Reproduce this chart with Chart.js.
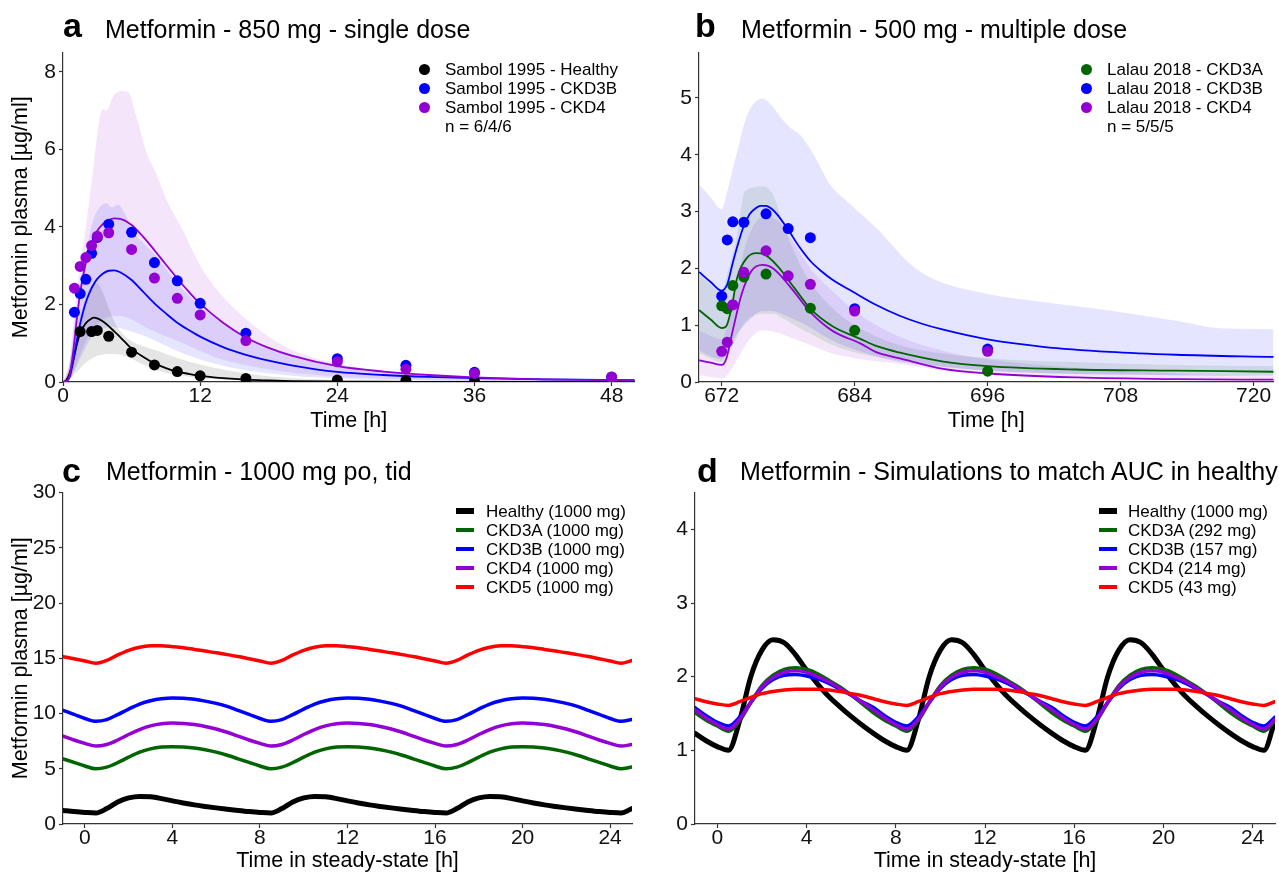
<!DOCTYPE html>
<html><head><meta charset="utf-8">
<script src="https://cdn.jsdelivr.net/npm/chart.js@4.4.1/dist/chart.umd.min.js"></script>
<style>
html,body{margin:0;padding:0;background:#fff;}
body{width:1279px;height:872px;position:relative;overflow:hidden;font-family:"Liberation Sans",Arial,Helvetica,sans-serif;color:#000;}
canvas{position:absolute;}
.t{position:absolute;white-space:nowrap;line-height:1;}
.ttl{font-size:25px;}
.let{font-size:34px;font-weight:bold;}
.lg{font-size:17px;}
.dot{position:absolute;width:11px;height:11px;border-radius:50%;}
.mk{position:absolute;width:18px;}
</style></head><body>
<canvas id="ca" width="640" height="401" style="left:0;top:39px"></canvas>
<canvas id="cb" width="639" height="401" style="left:640px;top:39px"></canvas>
<canvas id="cc" width="640" height="393" style="left:0;top:479px"></canvas>
<canvas id="cd" width="639" height="393" style="left:640px;top:479px"></canvas>

<div class="t let" style="left:63px;top:8px">a</div>
<div class="t ttl" style="left:105px;top:17px">Metformin - 850 mg - single dose</div>
<div class="t let" style="left:695px;top:8px">b</div>
<div class="t ttl" style="left:741px;top:17px">Metformin - 500 mg - multiple dose</div>
<div class="t let" style="left:62px;top:453px">c</div>
<div class="t ttl" style="left:106px;top:459px">Metformin - 1000 mg po, tid</div>
<div class="t let" style="left:697px;top:453px">d</div>
<div class="t ttl" style="left:740px;top:459px">Metformin - Simulations to match AUC in healthy</div>

<!-- legend a -->
<span class="dot" style="left:418.5px;top:63.5px;background:#000"></span>
<span class="dot" style="left:418.5px;top:82.7px;background:#0000ff"></span>
<span class="dot" style="left:418.5px;top:101.9px;background:#9400d3"></span>
<div class="t lg" style="left:445px;top:60.6px">Sambol 1995 - Healthy</div>
<div class="t lg" style="left:445px;top:79.8px">Sambol 1995 - CKD3B</div>
<div class="t lg" style="left:445px;top:99px">Sambol 1995 - CKD4</div>
<div class="t lg" style="left:445px;top:118.2px">n = 6/4/6</div>
<!-- legend b -->
<span class="dot" style="left:1080.5px;top:63.5px;background:#006400"></span>
<span class="dot" style="left:1080.5px;top:82.7px;background:#0000ff"></span>
<span class="dot" style="left:1080.5px;top:101.9px;background:#9400d3"></span>
<div class="t lg" style="left:1107px;top:60.6px">Lalau 2018 - CKD3A</div>
<div class="t lg" style="left:1107px;top:79.8px">Lalau 2018 - CKD3B</div>
<div class="t lg" style="left:1107px;top:99px">Lalau 2018 - CKD4</div>
<div class="t lg" style="left:1107px;top:118.2px">n = 5/5/5</div>
<!-- legend c -->
<span class="mk" style="left:456px;top:508px;height:6px;background:#000"></span>
<span class="mk" style="left:456px;top:528px;height:4px;background:#006400"></span>
<span class="mk" style="left:456px;top:547px;height:4px;background:#0000ff"></span>
<span class="mk" style="left:456px;top:566px;height:4px;background:#9400d3"></span>
<span class="mk" style="left:456px;top:585px;height:4px;background:#ff0000"></span>
<div class="t lg" style="left:486px;top:502.6px">Healthy (1000 mg)</div>
<div class="t lg" style="left:486px;top:521.6px">CKD3A (1000 mg)</div>
<div class="t lg" style="left:486px;top:540.6px">CKD3B (1000 mg)</div>
<div class="t lg" style="left:486px;top:559.6px">CKD4 (1000 mg)</div>
<div class="t lg" style="left:486px;top:578.6px">CKD5 (1000 mg)</div>
<!-- legend d -->
<span class="mk" style="left:1099px;top:508px;height:6px;background:#000"></span>
<span class="mk" style="left:1099px;top:528px;height:4px;background:#006400"></span>
<span class="mk" style="left:1099px;top:547px;height:4px;background:#0000ff"></span>
<span class="mk" style="left:1099px;top:566px;height:4px;background:#9400d3"></span>
<span class="mk" style="left:1099px;top:585px;height:4px;background:#ff0000"></span>
<div class="t lg" style="left:1128px;top:502.6px">Healthy (1000 mg)</div>
<div class="t lg" style="left:1128px;top:521.6px">CKD3A (292 mg)</div>
<div class="t lg" style="left:1128px;top:540.6px">CKD3B (157 mg)</div>
<div class="t lg" style="left:1128px;top:559.6px">CKD4 (214 mg)</div>
<div class="t lg" style="left:1128px;top:578.6px">CKD5 (43 mg)</div>

<script>
// ---------- Panel a : 850 mg single dose ----------
const aTicksX = [0, 12, 24, 36, 48];
const aTicksY = [0, 2, 4, 6, 8];
const aObsHealthyT = [1.5, 2.5, 3, 4, 6, 8, 10, 12, 16, 24, 30, 36];
const aObsHealthy  = [1.30, 1.30, 1.33, 1.18, 0.77, 0.44, 0.27, 0.16, 0.09, 0.05, 0.04, 0.02];
const aObsT = [1, 1.5, 2, 2.5, 3, 4, 6, 8, 10, 12, 16, 24, 30, 36, 48];
const aObsCKD3B = [1.80, 2.28, 2.65, 3.32, 3.73, 4.07, 3.86, 3.08, 2.61, 2.03, 1.26, 0.60, 0.43, 0.25, 0.13];
const aObsCKD4  = [2.42, 2.98, 3.21, 3.52, 3.76, 3.85, 3.42, 2.68, 2.16, 1.73, 1.07, 0.52, 0.33, 0.22, 0.12];
const aLineT = [0,0.3,0.6,0.9,1.2,1.5,1.8,2.1,2.4,2.7,3.0,3.5,4.0,4.5,5.0,6,7,8,9,10,11,12,14,16,18,20,24,28,32,36,42,50];
const aSimHealthy = [0,0.05,0.25,0.56,0.95,1.25,1.43,1.55,1.62,1.66,1.64,1.56,1.44,1.3,1.16,0.86,0.65,0.48,0.36,0.27,0.21,0.16,0.1,0.06,0.04,0.025,0.012,0.006,0.003,0.002,0.001,0];
const aSimCKD3B = [0,0.02,0.14,0.55,1.07,1.5,1.86,2.14,2.36,2.53,2.66,2.8,2.87,2.88,2.83,2.63,2.33,2.03,1.77,1.53,1.34,1.17,0.9,0.7,0.55,0.43,0.26,0.18,0.13,0.1,0.07,0.05];
const aSimCKD4  = [0,0.02,0.2,0.8,1.6,2.3,2.8,3.2,3.5,3.72,3.9,4.08,4.18,4.22,4.21,4.05,3.75,3.4,3.03,2.67,2.33,2.02,1.53,1.15,0.88,0.68,0.41,0.27,0.18,0.12,0.07,0.04];
const aBandHealthyT = [0,0.5,1,1.5,2,2.5,3,3.5,4,4.5,5,6,7,8.5,10,12,14,16,20,24,30,50];
const aBandHealthyHi = [0,0.4,1.1,1.7,2.2,2.5,2.55,2.3,1.9,1.55,1.32,1.05,0.93,0.78,0.62,0.45,0.32,0.22,0.1,0.05,0.02,0];
const aBandHealthyLo = [0,0.05,0.2,0.35,0.5,0.6,0.68,0.71,0.72,0.72,0.7,0.6,0.45,0.28,0.18,0.1,0.06,0.04,0.02,0.01,0,0];
const aBandCKD3BT  = [0,0.5,1,1.5,2,2.6,3.2,3.8,4.3,4.8,5.5,6,7,8,10,12,14,16,20,24,30,36,50];
const aBandCKD3BHi = [0,0.3,1.5,2.5,3.3,4.14,4.5,4.61,4.5,4.57,4.3,3.95,3.6,3.3,2.55,1.95,1.5,1.15,0.72,0.45,0.24,0.13,0.05];
const aBandCKD3BLo = [0,0.05,0.3,0.6,0.9,1.2,1.35,1.4,1.42,1.4,1.35,1.3,1.2,1.08,0.8,0.58,0.42,0.3,0.16,0.09,0.04,0.02,0.01];
const aBandCKD4T  = [0,0.5,1,1.5,2,2.6,3.2,3.5,3.8,4.4,5.1,5.7,6.4,7.3,8.2,9,10.5,12,13.7,15.7,19.2,23.6,29.4,34.6,42,50];
const aBandCKD4Hi = [0,0.4,1.8,3.0,4.0,5.4,6.8,7.04,7.0,7.38,7.51,7.48,6.87,5.93,5.34,4.74,3.9,3.0,2.3,1.7,0.95,0.5,0.22,0.1,0.05,0.02];
const aBandCKD4Lo = [0,0.03,0.3,0.7,1.05,1.35,1.55,1.62,1.66,1.7,1.7,1.65,1.55,1.4,1.28,1.18,1.0,0.8,0.6,0.45,0.27,0.15,0.07,0.04,0.02,0.01];

// ---------- Panel b : 500 mg multiple dose ----------
const bTicksX = [672, 684, 696, 708, 720];
const bTicksY = [0, 1, 2, 3, 4, 5];
const bObsT = [672, 672.5, 673, 674, 676, 678, 680, 684, 696];
const bObsCKD3B = [1.51, 2.50, 2.82, 2.81, 2.96, 2.70, 2.54, 1.29, 0.58];
const bObsCKD4  = [0.54, 0.70, 1.36, 1.93, 2.31, 1.87, 1.72, 1.25, 0.54];
const bObsCKD3AT = [672, 672.5, 673, 674, 676, 680, 684, 696];
const bObsCKD3A  = [1.34, 1.29, 1.70, 1.85, 1.90, 1.30, 0.91, 0.19];
const bSimCKD3BT = [670,671,672,672.5,673,673.5,674,674.5,675,675.5,676,676.5,677,678,679,680,681,682,684,686,688,690,692,696,701,707,713,722];
const bSimCKD3B  = [1.93,1.76,1.61,1.72,2.1,2.45,2.75,2.95,3.05,3.1,3.1,3.05,2.95,2.68,2.38,2.13,1.95,1.8,1.57,1.35,1.17,1.03,0.92,0.75,0.62,0.53,0.48,0.44];
const bSimCKD3AT = [670,671,672,672.4,672.9,673.4,674.3,675.1,675.8,677,678.5,680,682,684.5,686,688,692,696,704,713,722];
const bSimCKD3A  = [1.26,1.1,0.95,0.98,1.32,1.84,2.19,2.27,2.25,2.05,1.67,1.29,0.98,0.76,0.63,0.52,0.36,0.28,0.22,0.2,0.18];
const bSimCKD4T  = [670,671,672,672.4,673,673.8,674.7,675.7,676.7,678.2,680,682,684.5,686,688,692,696,704,713,722];
const bSimCKD4   = [0.38,0.34,0.3,0.4,0.91,1.55,1.96,2.06,1.99,1.67,1.23,0.9,0.68,0.52,0.42,0.23,0.15,0.08,0.05,0.04];
const bBandCKD3BT  = [670,671,672,672.5,673.4,674.3,675.7,676.5,677.4,678.3,679.1,680.3,681.8,683.3,686,689,691,696,701,707,713,717.4,722];
const bBandCKD3BHi = [3.47,3.25,3.04,3.36,4.06,4.7,4.99,4.87,4.64,4.46,4.35,4.0,3.47,3.18,2.7,2.08,1.82,1.55,1.41,1.26,1.08,0.94,0.93];
const bBandCKD3BLo = [0.55,0.45,0.4,0.55,0.85,1.05,1.25,1.25,1.2,1.12,1.05,0.92,0.75,0.62,0.45,0.32,0.28,0.2,0.16,0.13,0.12,0.11,0.11];
const bBandCKD3AT  = [670,672,672.5,673.4,674.1,675.8,676.7,677.5,679,680,682,684,688,692,696,704,713,722];
const bBandCKD3AHi = [1.9,1.6,1.9,2.6,3.36,3.44,3.27,2.8,2.1,1.75,1.3,1.0,0.65,0.5,0.42,0.35,0.3,0.28];
const bBandCKD3ALo = [0.5,0.35,0.45,0.8,1.05,1.2,1.2,1.12,0.95,0.85,0.65,0.52,0.38,0.27,0.2,0.14,0.12,0.11];
const bBandCKD4T  = [670,672,672.5,673.4,674.3,675.7,677,678,680,682,684,688,692,696,704,713,722];
const bBandCKD4Hi = [0.9,0.75,1.0,1.8,2.5,2.9,2.85,2.6,2.0,1.6,1.25,0.8,0.55,0.4,0.25,0.15,0.1];
const bBandCKD4Lo = [0.12,0.07,0.12,0.4,0.7,0.91,0.87,0.8,0.65,0.5,0.42,0.32,0.2,0.13,0.07,0.04,0.03];

// ---------- Panels c & d : steady state tid ----------
const ssTicksX = [0, 4, 8, 12, 16, 20, 24];
const cTicksY = [0, 5, 10, 15, 20, 25, 30];
const dTicksY = [0, 1, 2, 3, 4];
const ssT = [-1,-0.5,0,0.5,1,1.5,2,2.5,3,3.5,4,4.5,5,5.5,6,6.5,7,7.5,8,8.5,9,9.5,10,10.5,11,11.5,12,12.5,13,13.5,14,14.5,15,15.5,16,16.5,17,17.5,18,18.5,19,19.5,20,20.5,21,21.5,22,22.5,23,23.5,24,24.5,25];
const cHealthy = [1.23,1.13,
 1.05,1.0,1.4,2.0,2.36,2.5,2.46,2.3,2.09,1.9,1.73,1.59,1.46,1.34,1.23,1.13,
 1.05,1.0,1.4,2.0,2.36,2.5,2.46,2.3,2.09,1.9,1.73,1.59,1.46,1.34,1.23,1.13,
 1.05,1.0,1.4,2.0,2.36,2.5,2.46,2.3,2.09,1.9,1.73,1.59,1.46,1.34,1.23,1.13,
 1.05,1.0,1.4];
const cCKD3A = [5.9,5.57,
 5.25,5.0,5.15,5.55,6.05,6.5,6.8,6.96,7.0,6.97,6.88,6.72,6.5,6.22,5.9,5.57,
 5.25,5.0,5.15,5.55,6.05,6.5,6.8,6.96,7.0,6.97,6.88,6.72,6.5,6.22,5.9,5.57,
 5.25,5.0,5.15,5.55,6.05,6.5,6.8,6.96,7.0,6.97,6.88,6.72,6.5,6.22,5.9,5.57,
 5.25,5.0,5.15];
const cCKD3B = [10.28,9.92,
 9.55,9.3,9.45,9.9,10.4,10.85,11.15,11.33,11.4,11.37,11.28,11.12,10.92,10.65,10.28,9.92,
 9.55,9.3,9.45,9.9,10.4,10.85,11.15,11.33,11.4,11.37,11.28,11.12,10.92,10.65,10.28,9.92,
 9.55,9.3,9.45,9.9,10.4,10.85,11.15,11.33,11.4,11.37,11.28,11.12,10.92,10.65,10.28,9.92,
 9.55,9.3,9.45];
const cCKD4 = [7.95,7.6,
 7.3,7.05,7.2,7.6,8.1,8.55,8.88,9.07,9.13,9.1,9.0,8.83,8.6,8.3,7.95,7.6,
 7.3,7.05,7.2,7.6,8.1,8.55,8.88,9.07,9.13,9.1,9.0,8.83,8.6,8.3,7.95,7.6,
 7.3,7.05,7.2,7.6,8.1,8.55,8.88,9.07,9.13,9.1,9.0,8.83,8.6,8.3,7.95,7.6,
 7.3,7.05,7.2];
const cCKD5 = [15.15,14.95,
 14.75,14.55,14.8,15.3,15.72,16.0,16.12,16.13,16.05,15.95,15.8,15.65,15.5,15.33,15.15,14.95,
 14.75,14.55,14.8,15.3,15.72,16.0,16.12,16.13,16.05,15.95,15.8,15.65,15.5,15.33,15.15,14.95,
 14.75,14.55,14.8,15.3,15.72,16.0,16.12,16.13,16.05,15.95,15.8,15.65,15.5,15.33,15.15,14.95,
 14.75,14.55,14.8];
const dHealthy = [1.23,1.13,
 1.05,1.0,1.4,2.0,2.36,2.5,2.46,2.3,2.09,1.9,1.73,1.59,1.46,1.34,1.23,1.13,
 1.05,1.0,1.4,2.0,2.36,2.5,2.46,2.3,2.09,1.9,1.73,1.59,1.46,1.34,1.23,1.13,
 1.05,1.0,1.4,2.0,2.36,2.5,2.46,2.3,2.09,1.9,1.73,1.59,1.46,1.34,1.23,1.13,
 1.05,1.0,1.4];
const dCKD3A = [1.51,1.41,
 1.33,1.26,1.4,1.65,1.88,2.02,2.1,2.12,2.1,2.04,1.95,1.86,1.75,1.63,1.51,1.41,
 1.33,1.26,1.4,1.65,1.88,2.02,2.1,2.12,2.1,2.04,1.95,1.86,1.75,1.63,1.51,1.41,
 1.33,1.26,1.4,1.65,1.88,2.02,2.1,2.12,2.1,2.04,1.95,1.86,1.75,1.63,1.51,1.41,
 1.33,1.26,1.4];
const dCKD3B = [1.58,1.47,
 1.38,1.33,1.45,1.65,1.84,1.96,2.02,2.03,2.01,1.97,1.91,1.83,1.75,1.66,1.58,1.47,
 1.38,1.33,1.45,1.65,1.84,1.96,2.02,2.03,2.01,1.97,1.91,1.83,1.75,1.66,1.58,1.47,
 1.38,1.33,1.45,1.65,1.84,1.96,2.02,2.03,2.01,1.97,1.91,1.83,1.75,1.66,1.58,1.47,
 1.38,1.33,1.45];
const dCKD4 = [1.55,1.44,
 1.35,1.29,1.42,1.65,1.86,1.99,2.06,2.08,2.06,2.0,1.93,1.84,1.75,1.65,1.55,1.44,
 1.35,1.29,1.42,1.65,1.86,1.99,2.06,2.08,2.06,2.0,1.93,1.84,1.75,1.65,1.55,1.44,
 1.35,1.29,1.42,1.65,1.86,1.99,2.06,2.08,2.06,2.0,1.93,1.84,1.75,1.65,1.55,1.44,
 1.35,1.29,1.42];
const dCKD5 = [1.7,1.66,
 1.63,1.61,1.66,1.72,1.77,1.8,1.82,1.83,1.83,1.83,1.82,1.8,1.77,1.74,1.7,1.66,
 1.63,1.61,1.66,1.72,1.77,1.8,1.82,1.83,1.83,1.83,1.82,1.8,1.77,1.74,1.7,1.66,
 1.63,1.61,1.66,1.72,1.77,1.8,1.82,1.83,1.83,1.83,1.82,1.8,1.77,1.74,1.7,1.66,
 1.63,1.61,1.66];

// ---------- helpers ----------
const FONT = '"Liberation Sans", Arial, Helvetica, sans-serif';
Chart.defaults.font.family = FONT;
Chart.defaults.color = '#000';
const C = {black:'#000000', blue:'#0000ff', purple:'#9400d3', green:'#006400', red:'#ff0000'};
const xy = (ts, vs) => ts.map((t, i) => ({x: t, y: vs[i]}));
function band(ts, hi, lo, col) {
  return [
    {data: xy(ts, hi), borderWidth: 0, borderColor: 'rgba(0,0,0,0)', backgroundColor: col, fill: '+1', pointRadius: 0, cubicInterpolationMode: 'monotone', order: 10},
    {data: xy(ts, lo), borderWidth: 0, borderColor: 'rgba(0,0,0,0)', backgroundColor: 'rgba(0,0,0,0)', fill: false, pointRadius: 0, cubicInterpolationMode: 'monotone', order: 10}
  ];
}
function line(ts, vs, col, w, order) {
  return {data: xy(ts, vs), borderColor: col, borderWidth: w, backgroundColor: col, fill: false, pointRadius: 0, cubicInterpolationMode: 'monotone', order: order, borderCapStyle: 'round', borderJoinStyle: 'round'};
}
function pts(ts, vs, col, order) {
  return {data: xy(ts, vs), showLine: false, pointRadius: 5.5, pointBackgroundColor: col, pointBorderColor: col, pointBorderWidth: 0, backgroundColor: col, borderColor: col, order: order};
}
function make(id, o) {
  const axisCol = '#333';
  return new Chart(document.getElementById(id), {
    type: 'line',
    data: {datasets: o.datasets},
    options: {
      responsive: false, animation: false, events: [],
      layout: {padding: o.pad},
      plugins: {legend: {display: false}, tooltip: {enabled: false}},
      scales: {
        x: {type: 'linear', min: o.xMin, max: o.xMax,
            afterBuildTicks: s => { s.ticks = o.xTicks.map(v => ({value: v})); },
            afterFit: s => { s.height = o.xH; },
            grid: {display: true, drawOnChartArea: false, drawTicks: true, tickLength: 4, color: axisCol, tickWidth: 1.2},
            border: {display: true, color: axisCol, width: 1.2},
            ticks: {font: {size: 21, lineHeight: 1}, color: '#111', padding: 0, maxRotation: 0, autoSkip: false, callback: v => String(v)},
            title: {display: true, text: o.xTitle, font: {size: 21.5, lineHeight: 1}, color: '#000', padding: {top: 0, bottom: 0}}},
        y: {type: 'linear', min: o.yMin, max: o.yMax,
            afterBuildTicks: s => { s.ticks = o.yTicks.map(v => ({value: v})); },
            afterFit: s => { s.width = o.yW; },
            grid: {display: true, drawOnChartArea: false, drawTicks: true, tickLength: 4, color: axisCol, tickWidth: 1.2},
            border: {display: true, color: axisCol, width: 1.2},
            ticks: {font: {size: 21, lineHeight: 1}, color: '#111', padding: 3, autoSkip: false, callback: v => String(v)},
            title: o.yTitle ? {display: true, text: o.yTitle, font: {size: 21.5, lineHeight: 1}, color: '#000', padding: {top: 10, bottom: 0}} : {display: false}}
      }
    }
  });
}

// ---------- panel a ----------
make('ca', {
  xMin: 0, xMax: 50, yMin: 0, yMax: 8.5, xTicks: aTicksX, yTicks: aTicksY,
  yW: 63, xH: 50, pad: {top: 11, right: 3, bottom: 8, left: 0},
  xTitle: 'Time [h]', yTitle: 'Metformin plasma [µg/ml]',
  datasets: [
    pts(aObsT, aObsCKD4, C.purple, 1.1),
    pts(aObsT, aObsCKD3B, C.blue, 1.2),
    pts(aObsHealthyT, aObsHealthy, C.black, 1.3),
    line(aLineT, aSimCKD4, C.purple, 1.8, 2.1),
    line(aLineT, aSimCKD3B, C.blue, 1.8, 2.2),
    line(aLineT, aSimHealthy, C.black, 1.8, 2.3),
    ...band(aBandHealthyT, aBandHealthyHi, aBandHealthyLo, 'rgba(0,0,0,0.1)'),
    ...band(aBandCKD3BT, aBandCKD3BHi, aBandCKD3BLo, 'rgba(0,0,255,0.1)'),
    ...band(aBandCKD4T, aBandCKD4Hi, aBandCKD4Lo, 'rgba(148,0,211,0.1)')
  ]
});

// ---------- panel b ----------
make('cb', {
  xMin: 669.95, xMax: 721.8, yMin: 0, yMax: 5.8, xTicks: bTicksX, yTicks: bTicksY,
  yW: 59, xH: 50, pad: {top: 11, right: 0, bottom: 8, left: 0},
  xTitle: 'Time [h]', yTitle: null,
  datasets: [
    pts(bObsT, bObsCKD4, C.purple, 1.1),
    pts(bObsCKD3AT, bObsCKD3A, C.green, 1.2),
    pts(bObsT, bObsCKD3B, C.blue, 1.3),
    line(bSimCKD4T, bSimCKD4, C.purple, 1.8, 2.1),
    line(bSimCKD3AT, bSimCKD3A, C.green, 1.8, 2.2),
    line(bSimCKD3BT, bSimCKD3B, C.blue, 1.8, 2.3),
    ...band(bBandCKD3BT, bBandCKD3BHi, bBandCKD3BLo, 'rgba(0,0,255,0.1)'),
    ...band(bBandCKD3AT, bBandCKD3AHi, bBandCKD3ALo, 'rgba(0,100,0,0.1)'),
    ...band(bBandCKD4T, bBandCKD4Hi, bBandCKD4Lo, 'rgba(148,0,211,0.1)')
  ]
});

// ---------- panel c ----------
make('cc', {
  xMin: -1, xMax: 25, yMin: 0, yMax: 30, xTicks: ssTicksX, yTicks: cTicksY,
  yW: 63, xH: 48, pad: {top: 13, right: 8, bottom: 0, left: 0},
  xTitle: 'Time in steady-state [h]', yTitle: 'Metformin plasma [µg/ml]',
  datasets: [
    line(ssT, cCKD5, C.red, 3.5, 1),
    line(ssT, cCKD4, C.purple, 3.5, 2),
    line(ssT, cCKD3B, C.blue, 3.5, 3),
    line(ssT, cCKD3A, C.green, 3.5, 4),
    line(ssT, cHealthy, C.black, 5, 5)
  ]
});

// ---------- panel d ----------
make('cd', {
  xMin: -1, xMax: 25, yMin: 0, yMax: 4.5, xTicks: ssTicksX, yTicks: dTicksY,
  yW: 55, xH: 48, pad: {top: 13, right: 4, bottom: 0, left: 0},
  xTitle: 'Time in steady-state [h]', yTitle: null,
  datasets: [
    line(ssT, dCKD5, C.red, 3.5, 1),
    line(ssT, dCKD4, C.purple, 3.5, 2),
    line(ssT, dCKD3B, C.blue, 3.5, 3),
    line(ssT, dCKD3A, C.green, 3.5, 4),
    line(ssT, dHealthy, C.black, 5, 5)
  ]
});
</script>
</body></html>
